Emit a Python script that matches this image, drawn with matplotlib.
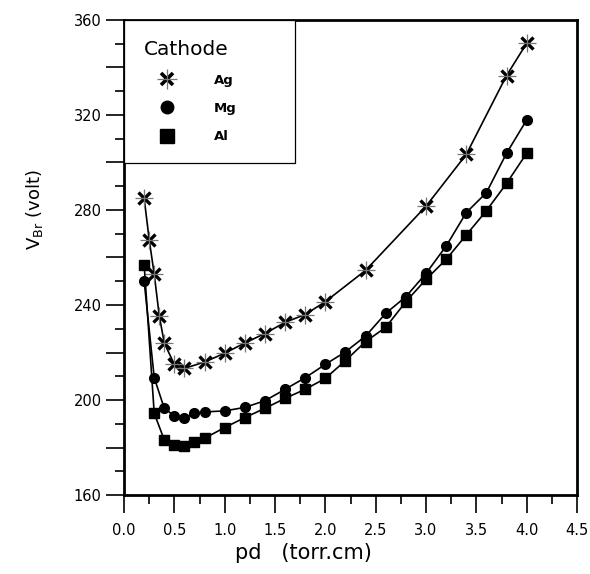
import matplotlib
matplotlib.use("Agg")
import matplotlib.pyplot as plt
from matplotlib.lines import Line2D
from matplotlib.ticker import MultipleLocator, FuncFormatter

# pd (torr.cm) and breakdown voltage (volt)
pd_ag = [0.2, 0.25, 0.3, 0.35, 0.4, 0.5, 0.6, 0.8, 1.0, 1.2, 1.4, 1.6, 1.8, 2.0,
         2.4, 3.0, 3.4, 3.8, 4.0]
v_ag = [285, 267.5, 253, 235.5, 224, 215, 213.3, 216, 219.7, 224, 228, 232.7,
        236, 241.4, 254.6, 281.6, 303.4, 336.6, 350.2]

pd_mg = [0.2, 0.3, 0.4, 0.5, 0.6, 0.7, 0.8, 1.0, 1.2, 1.4, 1.6, 1.8, 2.0, 2.2,
         2.4, 2.6, 2.8, 3.0, 3.2, 3.4, 3.6, 3.8, 4.0]
v_mg = [250, 209.4, 196.5, 193.3, 192.3, 194.4, 195, 195.4, 196.9, 199.7, 204.5,
        209.4, 215, 220.3, 226.9, 236.5, 243.5, 253.3, 264.8, 278.9, 287.3,
        303.9, 317.9]

pd_al = pd_mg
v_al = [257, 194.4, 183.2, 181, 180.6, 182.2, 183.9, 188.4, 192.6, 196.5, 200.7,
        204.5, 209.1, 216.6, 224.6, 230.6, 241.4, 250.8, 259.2, 269.5, 279.7,
        291.2, 303.9]

fig = plt.figure(figsize=(5.9, 5.74), dpi=100)
ax = fig.add_axes([0.2102, 0.1376, 0.7678, 0.8276])

# Ag: black x with a thin grey cross on top
ax.plot(pd_ag, v_ag, color="black", lw=1.2)
ax.plot(pd_ag, v_ag, ls="none", marker="x", ms=8, mew=2.4, color="black")
ax.plot(pd_ag, v_ag, ls="none", marker="+", ms=13, mew=0.9, color="#777777")

ax.plot(pd_mg, v_mg, color="black", lw=1.2, marker="o", ms=7, mec="black")
ax.plot(pd_al, v_al, color="black", lw=1.2, marker="s", ms=7.5, mec="black")

ax.set_xlim(0, 4.5)
ax.set_ylim(160, 360)
ax.xaxis.set_major_locator(MultipleLocator(0.5))
ax.xaxis.set_minor_locator(MultipleLocator(0.25))
ax.yaxis.set_major_locator(MultipleLocator(20))
ax.yaxis.set_minor_locator(MultipleLocator(10))
ax.xaxis.set_major_formatter(FuncFormatter(lambda v, p: f"{v:.1f}"))
ax.yaxis.set_major_formatter(
    FuncFormatter(lambda v, p: f"{int(round(v))}" if round(v) % 40 == 0 else ""))

ax.tick_params(which="major", length=13, width=1.2, labelsize=10.5)
ax.tick_params(which="minor", length=6.5, width=1.2)
ax.tick_params(axis="x", which="major", pad=7)
ax.tick_params(axis="y", which="major", pad=3)
for s in ax.spines.values():
    s.set_linewidth(2)

ax.set_xlabel("pd   (torr.cm)", fontsize=15)
ax.set_ylabel("V$_{\\mathregular{Br}}$ (volt)", fontsize=13)
ax.xaxis.set_label_coords(0.395, -0.1)
ax.yaxis.set_label_coords(-0.175, 0.6)

h_ag = (Line2D([], [], ls="none", marker="x", ms=9, mew=2.6, color="black"),
        Line2D([], [], ls="none", marker="+", ms=14, mew=0.9, color="#777777"))
h_mg = Line2D([], [], ls="none", marker="o", ms=9, color="black")
h_al = Line2D([], [], ls="none", marker="s", ms=10, color="black")
leg = ax.legend([h_ag, h_mg, h_al], ["Ag", "Mg", "Al"], title="Cathode",
                loc="upper left", bbox_to_anchor=(0, 1 - 142 / 475, 171 / 453, 142 / 475),
                mode="expand", borderaxespad=0, borderpad=1.5, handlelength=3.5,
                handletextpad=1.8, labelspacing=1.15, fancybox=False,
                edgecolor="black", framealpha=1, alignment="left",
                prop={"size": 9.5, "weight": "bold"}, title_fontsize=14.5)
leg.get_frame().set_linewidth(0.9)

fig.savefig("out.png", dpi=100)
